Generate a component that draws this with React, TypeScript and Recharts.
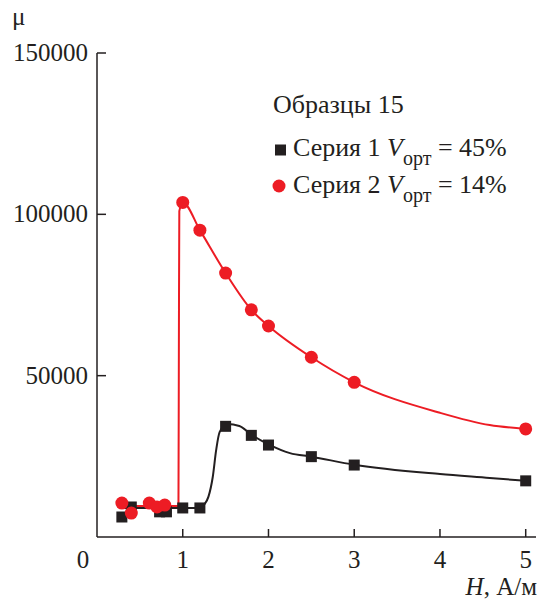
import React from 'react';
import { ComposedChart, Line, Scatter, XAxis, YAxis, Customized } from 'recharts';

const xTicks = [0, 1, 2, 3, 4, 5];
const yTicks = [0, 50000, 100000, 150000];

// Measured points (H, A/m ; mu)
const series1H = [0.29, 0.4, 0.73, 0.81, 1.0, 1.2, 1.5, 1.8, 2.0, 2.5, 3.0, 5.0];
const series1Mu = [6200, 9300, 7800, 7800, 9000, 9000, 34300, 31500, 28500, 24900, 22300, 17400];
const series2H = [0.29, 0.4, 0.61, 0.7, 0.79, 1.0, 1.2, 1.5, 1.8, 2.0, 2.5, 3.0, 5.0];
const series2Mu = [10500, 7400, 10500, 9300, 9900, 103700, 95100, 81800, 70400, 65400, 55700, 47950, 33500];

// Fitted curves
const fit1H = [0.29, 1.2, 1.25, 1.3, 1.35, 1.39, 1.43, 1.52, 1.66, 1.8, 2.0, 2.25, 2.5, 3.0, 4.0, 4.58, 5.0];
const fit1Mu = [9000, 9000, 10000, 12500, 18600, 27000, 32500, 35000, 34400, 31700, 28700, 26000, 24900, 22400, 19500, 18300, 17400];
const fit2H = [0.29, 0.95, 0.955, 0.96, 1.0, 1.2, 1.5, 1.8, 2.0, 2.5, 3.0, 4.0, 4.58, 5.0];
const fit2Mu = [9600, 9600, 60000, 101000, 103700, 95100, 81800, 70400, 65400, 55700, 47950, 38500, 34700, 33500];

const BLACK = '#231f20';
const RED = '#ed1c24';
const FONT = 'Liberation Serif, DejaVu Serif, serif';

const pts1 = series1H.map((x, i) => ({ x, y: series1Mu[i] }));
const pts2 = series2H.map((x, i) => ({ x, y: series2Mu[i] }));
const curve1 = fit1H.map((x, i) => ({ x, y: fit1Mu[i] }));
const curve2 = fit2H.map((x, i) => ({ x, y: fit2Mu[i] }));

const txt = (size: number): React.CSSProperties => ({ fontFamily: FONT, fontSize: size, fill: BLACK });

const XTick = (props: any) => {
  const { x, y, payload } = props;
  const v = payload.value;
  if (v === 0) {
    return (
      <text x={x - 14} y={y + 31} textAnchor="middle" style={txt(25)}>0</text>
    );
  }
  return (
    <g>
      <line x1={x} y1={y} x2={x} y2={y - 8} stroke={BLACK} strokeWidth={1.5} />
      <text x={x} y={y + 31} textAnchor="middle" style={txt(25)}>{v}</text>
    </g>
  );
};

const YTick = (props: any) => {
  const { x, y, payload } = props;
  const v = payload.value;
  if (v === 0) return <g />;
  return (
    <g>
      <line x1={x} y1={y} x2={x + 9} y2={y} stroke={BLACK} strokeWidth={1.5} />
      <text x={x - 9} y={y + 8} textAnchor="end" style={txt(25)}>{v}</text>
    </g>
  );
};

const SquareDot = (p: any) => (
  <rect x={p.cx - 5.5} y={p.cy - 5.5} width={11} height={11} fill={BLACK} />
);
const CircleDot = (p: any) => <circle cx={p.cx} cy={p.cy} r={6.5} fill={RED} />;

const Annotations = () => (
  <g>
    <text x={12} y={25} style={txt(25)}>μ</text>
    <text x={537} y={595} textAnchor="end" style={txt(25)}>
      <tspan fontStyle="italic">H</tspan>, А/м
    </text>
    <text x={273} y={113} style={txt(26)}>Образцы 15</text>
    <rect x={275} y={144.5} width={11} height={11} fill={BLACK} />
    <text x={293} y={156} style={txt(26)}>
      Серия 1 <tspan fontStyle="italic">V</tspan>
      <tspan dy={9} style={{ fontSize: 20 }}>орт</tspan>
      <tspan dy={-9}> = 45%</tspan>
    </text>
    <circle cx={279} cy={186} r={6.5} fill={RED} />
    <text x={293} y={193} style={txt(26)}>
      Серия 2 <tspan fontStyle="italic">V</tspan>
      <tspan dy={9} style={{ fontSize: 20 }}>орт</tspan>
      <tspan dy={-9}> = 14%</tspan>
    </text>
  </g>
);

export default function App() {
  return (
    <div style={{ position: 'absolute', left: 0, top: 0, background: '#fff' }}>
      <ComposedChart width={538} height={600} margin={{ top: 53, right: 2, bottom: 0, left: 0 }}>
        <XAxis
          type="number"
          dataKey="x"
          domain={[0, 5.12]}
          ticks={xTicks}
          allowDataOverflow
          height={63}
          tickSize={0}
          tickMargin={0}
          tickLine={false}
          tick={<XTick />}
          axisLine={{ stroke: BLACK, strokeWidth: 1.5 }}
          interval={0}
        />
        <YAxis
          type="number"
          dataKey="y"
          domain={[0, 150000]}
          ticks={yTicks}
          allowDataOverflow
          width={97}
          tickSize={0}
          tickMargin={0}
          tickLine={false}
          tick={<YTick />}
          axisLine={{ stroke: BLACK, strokeWidth: 1.5 }}
          interval={0}
        />
        <Line data={curve1} dataKey="y" type="monotone" stroke={BLACK} strokeWidth={2} dot={false} isAnimationActive={false} />
        <Scatter data={pts1} dataKey="y" shape={SquareDot} isAnimationActive={false} />
        <Line data={curve2} dataKey="y" type="monotone" stroke={RED} strokeWidth={2} dot={false} isAnimationActive={false} />
        <Scatter data={pts2} dataKey="y" shape={CircleDot} isAnimationActive={false} />
        <Customized component={Annotations} />
      </ComposedChart>
    </div>
  );
}
